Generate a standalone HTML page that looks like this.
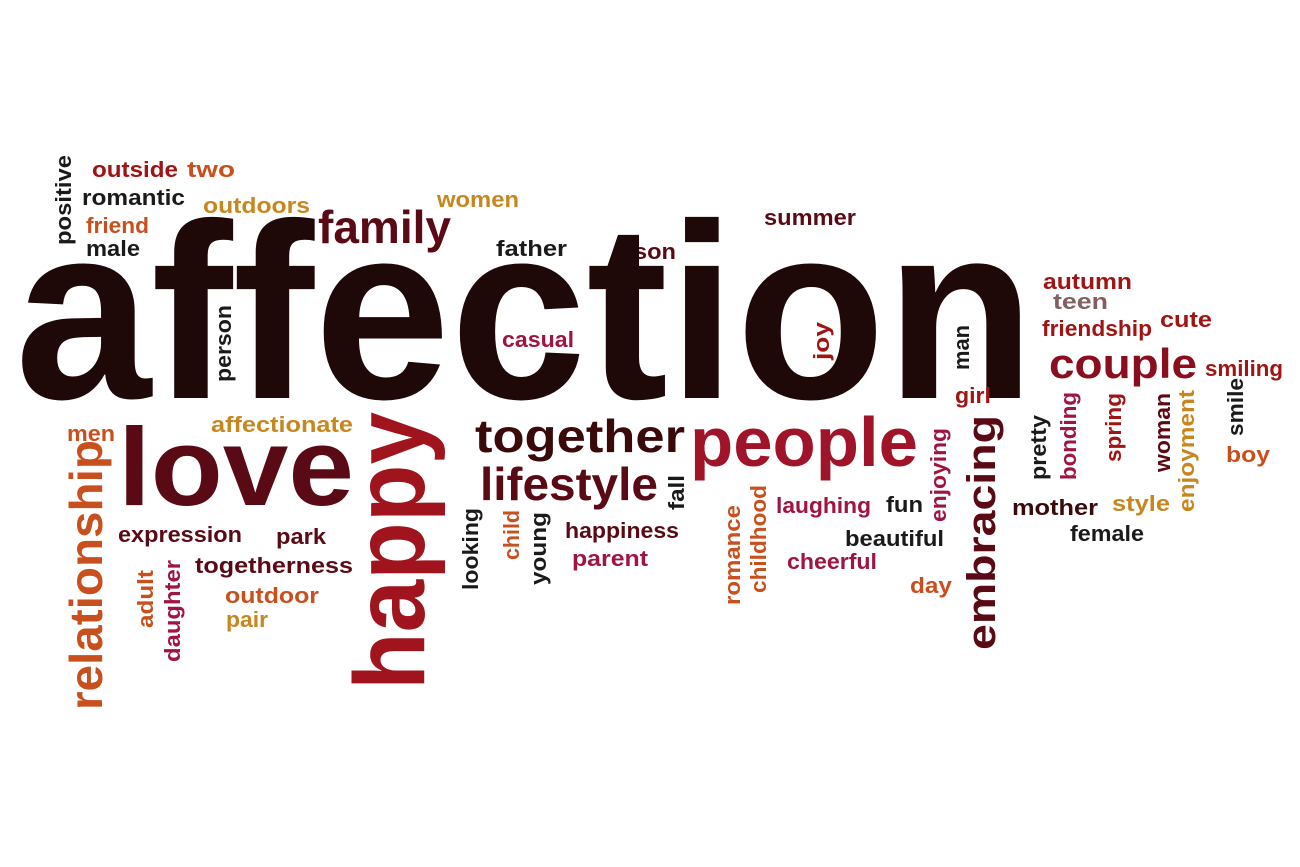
<!DOCTYPE html>
<html><head><meta charset="utf-8"><style>
html,body{margin:0;padding:0;background:#fff;}
svg{display:block;}
text{font-family:"Liberation Sans",sans-serif;font-weight:bold;}
</style></head><body>
<svg width="1300" height="867" viewBox="0 0 1300 867" id="cloud"></svg>
<script>
const words = ["outside","two","romantic","outdoors","women","friend","male","family","father","son","summer","affection","autumn","teen","friendship","cute","couple","smiling","casual","girl","affectionate","men","love","together","people","lifestyle","boy","mother","style","female","laughing","fun","beautiful","expression","park","happiness","parent","cheerful","togetherness","day","outdoor","pair"];
const hx = [92,187,82,203,437,86,86,318,496,634,764,15,1043,1053,1042,1160,1049,1205,502,955,211,67,118,475,690,480,1226,1012,1112,1070,776,886,845,118,276,565,572,787,195,910,225,226];
const hy = [177,177,205,213,207,233,256,243,256,259,225,398,289,309,336,327,378,376,347,403,432,441,505,452,466,500,462,515,511,541,513,512,546,542,544,538,566,569,573,593,603,627];
const hs = [22,22,22,22,22,22,22,46,22,22,22,250,22,22,22,22,42,22,22,22,22,22,110,46,70,46,22,22,22,22,22,22,22,22,22,22,22,22,22,22,22,22];
const hw = [86,48,103,107,82,63,54,133,71,42,92,1020,89,55,110,52,148,78,72,36,142,48,236,210,228,178,44,86,58,74,95,37,99,124,50,114,76,90,158,42,94,42];
const hc = ["#a01414","#c8501e","#1a1a1a","#c8871e","#c8871e","#c8501e","#1a1a1a","#5a0a14","#1a1a1a","#5a0a14","#5a0a14","#1e0808","#a01414","#806060","#a01414","#a01414","#8a0e1e","#a01414","#a01440","#a01414","#c8871e","#c8501e","#5a0a14","#3a0a0a","#a0142a","#5a0a14","#c8501e","#3a0a0a","#c8871e","#1a1a1a","#a01440","#1a1a1a","#1a1a1a","#5a0a14","#5a0a14","#5a0a14","#a01440","#a01440","#5a0a14","#c8501e","#c8501e","#c8871e"];

const vwords = ["positive","person","joy","man","relationship","happy","fall","looking","child","young","romance","childhood","enjoying","embracing","pretty","bonding","spring","woman","enjoyment","smile","adult","daughter"];
const vx = [71,231,829,969,102,424,684,478,519,546,740,766,946,995,1046,1076,1121,1170,1194,1243,153,180];
const vy = [245,382,360,370,710,690,510,590,560,585,605,593,522,650,480,480,462,472,512,436,628,662];
const vs = [22,22,22,22,46,100,22,22,22,22,22,22,22,40,22,22,22,22,22,22,22,22];
const vl = [90,77,38,45,270,278,35,82,50,73,100,108,94,235,65,88,69,79,122,58,58,102];
const vc = ["#1a1a1a","#1a1a1a","#a01414","#1a1a1a","#c8501e","#a0141e","#1a1a1a","#1a1a1a","#c8501e","#1a1a1a","#c8501e","#c8501e","#a01440","#5a0a14","#1a1a1a","#a01440","#a01414","#5a0a14","#c8871e","#1a1a1a","#c8501e","#a01440"];

const svg = document.getElementById('cloud');
const NS = "http://www.w3.org/2000/svg";
for (let i = 0; i < words.length; i++) {
  const t = document.createElementNS(NS, 'text');
  t.setAttribute('x', hx[i]);
  t.setAttribute('y', hy[i]);
  t.setAttribute('font-size', hs[i]);
  t.setAttribute('fill', hc[i]);
  t.setAttribute('textLength', hw[i]);
  t.setAttribute('lengthAdjust', 'spacingAndGlyphs');
  
  
  t.textContent = words[i];
  svg.appendChild(t);
}
for (let i = 0; i < vwords.length; i++) {
  const t = document.createElementNS(NS, 'text');
  t.setAttribute('x', vx[i]);
  t.setAttribute('y', vy[i]);
  t.setAttribute('transform', 'rotate(-90 ' + vx[i] + ' ' + vy[i] + ')');
  t.setAttribute('font-size', vs[i]);
  t.setAttribute('fill', vc[i]);
  t.setAttribute('textLength', vl[i]);
  t.setAttribute('lengthAdjust', 'spacingAndGlyphs');
  
  
  t.textContent = vwords[i];
  svg.appendChild(t);
}
</script>
</body></html>
